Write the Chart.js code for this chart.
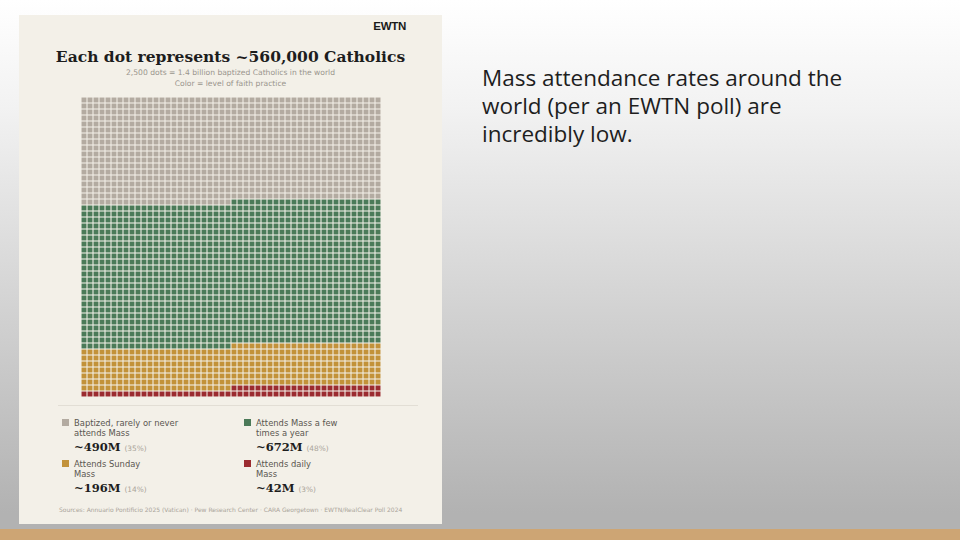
<!DOCTYPE html>
<html>
<head>
<meta charset="utf-8">
<script src="https://cdn.jsdelivr.net/npm/chart.js@4"></script>
<style>
  html, body { margin: 0; padding: 0; }
  body {
    width: 960px; height: 540px; position: relative; overflow: hidden;
    background: linear-gradient(to bottom, #ffffff 0%, #f2f2f2 20%, #b2b2b2 95%);
    font-family: "DejaVu Sans", sans-serif;
  }
  .band { position: absolute; left: 0; top: 529px; width: 960px; height: 11px; background: #cda574; }
  .card { position: absolute; left: 19px; top: 15px; width: 423px; height: 509px; background: #f3f0e8; }
  .abs { position: absolute; white-space: nowrap; }
  .logo { right: 36px; top: 5px; font: bold 11.5px "Liberation Sans", Arial, sans-serif; color: #1a1a1a; letter-spacing: -0.3px; }
  .title { left: 0; width: 423px; text-align: center; top: 32px; font: bold 15.5px "DejaVu Serif", serif; color: #1d1d1d; }
  .sub { left: 0; width: 423px; text-align: center; font-size: 7.6px; color: #9a958d; }
  .chartbox { position: absolute; left: 62px; top: 82px; width: 300px; height: 300px; }
  .sep { position: absolute; left: 39px; top: 390px; width: 360px; height: 1px; background: #e2ded5; }
  .sw { position: absolute; width: 7px; height: 7px; }
  .lab { font-size: 8.4px; color: #5a5650; line-height: 10px; }
  .val { font: bold 11.5px "DejaVu Serif", serif; color: #1d1d1d; }
  .val span { font: 7.4px "DejaVu Sans", sans-serif; color: #aaa49a; font-weight: normal; }
  .src { left: 40px; top: 491px; font-size: 6px; color: #aaa49a; }
  .note { left: 482px; top: 64px; font: 22.5px "Open Sans", sans-serif; color: #1e1e1e; line-height: 28px; white-space: normal; width: 395px; }
</style>
</head>
<body>
<div class="card">
  <div class="abs logo">EWTN</div>
  <div class="abs title">Each dot represents ~560,000 Catholics</div>
  <div class="abs sub" style="top:53px">2,500 dots = 1.4 billion baptized Catholics in the world</div>
  <div class="abs sub" style="top:64px">Color = level of faith practice</div>
  <div class="chartbox"><canvas id="dots"></canvas></div>
  <div class="sep"></div>
  <div id="legend"></div>
  <div class="abs src">Sources: Annuario Pontificio 2025 (Vatican) · Pew Research Center · CARA Georgetown · EWTN/RealClear Poll 2024</div>
</div>
<div class="abs note">Mass attendance rates around the world (per an EWTN poll) are incredibly low.</div>
<div class="band"></div>

<script>
// categories, dots per category (of 2,500), totals and shares
const categories = ["Baptized, rarely or never|attends Mass", "Attends Mass a few|times a year", "Attends Sunday|Mass", "Attends daily|Mass"];
const dotCounts = [875, 1200, 350, 75];
const totals = ["~490M", "~672M", "~196M", "~42M"];
const shares = ["35%", "48%", "14%", "3%"];
const colors = ["#b3aba1", "#4b7a58", "#c2923a", "#9b2b30"];
const cols = 50;

// legend (2 x 2)
const legend = document.getElementById("legend");
const pos = [[43, 404], [225, 404], [43, 445], [225, 445]];
categories.forEach((c, i) => {
    const [x, y] = pos[i];
    const lines = c.split("|");
    legend.innerHTML += `
        <div class="sw" style="left:${x}px;top:${y}px;background:${colors[i]}"></div>
        <div class="abs lab" style="left:${x + 12}px;top:${y - 1}px">${lines[0]}<br>${lines[1]}</div>
        <div class="abs val" style="left:${x + 12}px;top:${y + 21}px">${totals[i]} <span>(${shares[i]})</span></div>`;
});

// one dataset per category, dots fill row by row
let idx = 0;
const datasets = dotCounts.map((n, k) => {
    const pts = [];
    for (let j = 0; j < n; j++, idx++) {
        pts.push({ x: idx % cols, y: Math.floor(idx / cols) });
    }
    return {
        label: categories[k].replace("|", " "),
        data: pts,
        pointStyle: 'rect',
        pointRadius: 3.5,
        pointHoverRadius: 3.5,
        backgroundColor: colors[k],
        borderWidth: 0
    };
});

new Chart(document.getElementById("dots"), {
    type: 'scatter',
    data: { datasets },
    options: {
        responsive: true,
        maintainAspectRatio: false,
        animation: false,
        layout: { padding: 0, autoPadding: false },
        scales: {
            x: { display: false, min: -0.5, max: cols - 0.5 },
            y: { display: false, min: -0.5, max: cols - 0.5, reverse: true }
        },
        plugins: {
            legend: { display: false },
            tooltip: { enabled: false }
        }
    }
});
</script>
</body>
</html>
